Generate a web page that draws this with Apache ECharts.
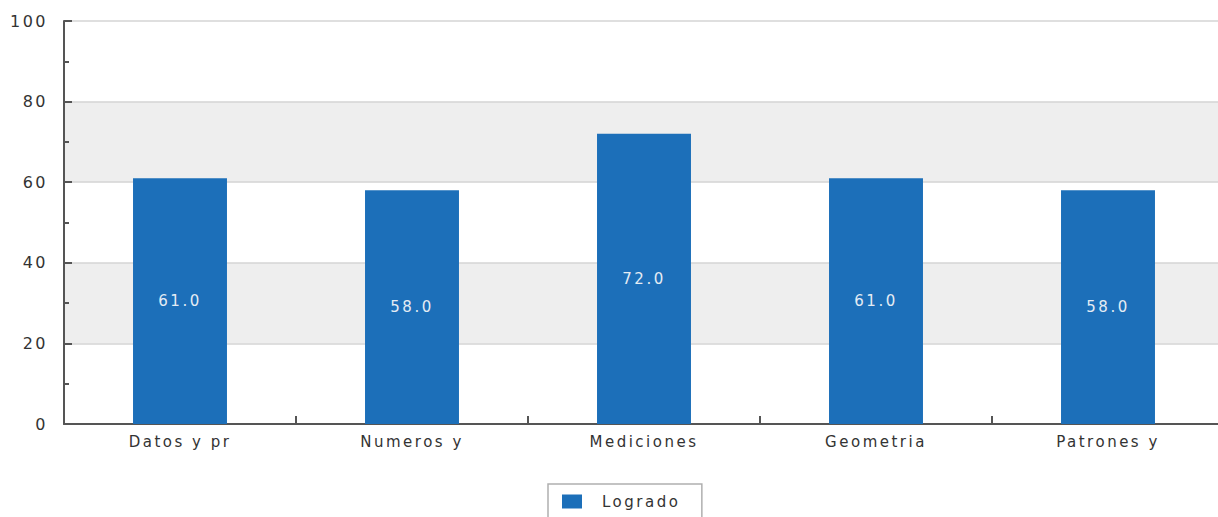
<!DOCTYPE html>
<html><head><meta charset="utf-8">
<script src="https://cdn.jsdelivr.net/npm/echarts@6/dist/echarts.min.js"></script>
<style>html,body{margin:0;padding:0;background:#fff}#c{width:1218px;height:517px}
#c text{letter-spacing:2.5px}</style>
</head><body><div id="c"></div>
<script>
const categories = ['Datos y pr', 'Numeros y', 'Mediciones', 'Geometria', 'Patrones y'];
const lograde = [61.0, 58.0, 72.0, 61.0, 58.0];
const seriesName = 'Logrado';
const chart = echarts.init(document.getElementById('c'), null, {renderer: 'svg'});
const font = 'DejaVu Sans';
chart.setOption({
  animation: false,
  grid: {left: 64, width: 1160, top: 21, bottom: 93, containLabel: false, outerBoundsMode: 'none'},
  legend: {
    data: [seriesName], left: 548, top: 484,
    borderColor: '#b0b0b0', borderWidth: 1.5,
    padding: [10, 39, 12, 14],
    itemWidth: 20, itemHeight: 14,
    icon: 'rect',
    textStyle: {fontFamily: font, fontSize: 15, color: '#333', padding: [0, 0, 0, 15]}
  },
  xAxis: {
    type: 'category', data: categories,
    axisLine: {lineStyle: {color: '#555', width: 2}},
    axisTick: {show: true, inside: true, length: 8, alignWithLabel: false, lineStyle: {color: '#555', width: 2}},
    axisLabel: {fontFamily: font, fontSize: 15, color: '#333', margin: 10}
  },
  yAxis: {
    type: 'value', min: 0, max: 100, interval: 20,
    axisLine: {show: true, lineStyle: {color: '#555', width: 2}},
    axisTick: {show: true, inside: true, length: 8, lineStyle: {color: '#555', width: 2}},
    minorTick: {show: true, splitNumber: 2, length: 5, lineStyle: {color: '#555', width: 2}},
    axisLabel: {fontFamily: font, fontSize: 16, color: '#333', margin: 16},
    splitLine: {show: true, lineStyle: {color: '#d4d4d4', width: 1.5}},
    splitArea: {show: true, areaStyle: {color: ['#ffffff', '#eeeeee']}}
  },
  series: [{
    name: seriesName, type: 'bar', data: lograde, barWidth: '40.5%',
    itemStyle: {color: '#1c6fb9'},
    label: {show: true, position: 'inside', fontFamily: font, fontSize: 15, color: '#e4ecf4',
      formatter: p => p.value.toFixed(1)}
  }]
});
</script></body></html>
